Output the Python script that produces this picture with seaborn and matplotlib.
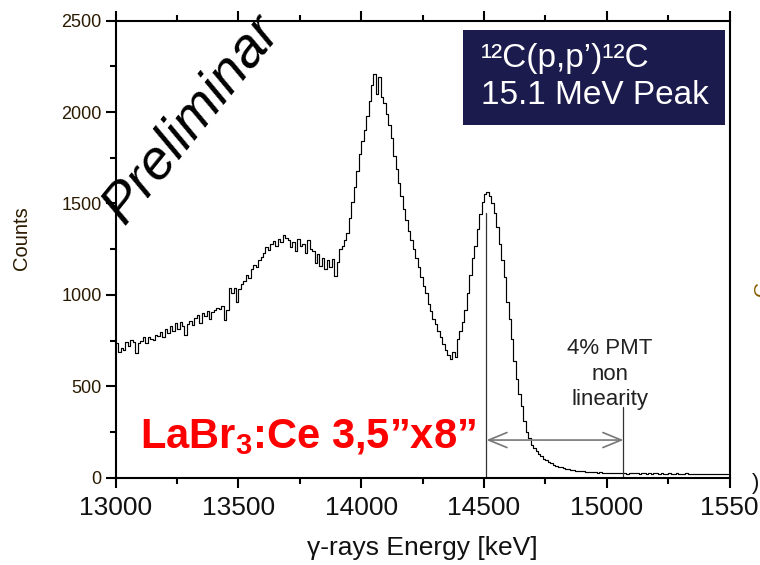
import numpy as np
import pandas as pd
import seaborn as sns
import matplotlib
matplotlib.use("Agg")
import matplotlib.pyplot as plt
from matplotlib.ticker import MultipleLocator
from matplotlib.patches import Rectangle

# Spectrum: 10 keV bins starting at 13000 keV
bin_start = 13000
bin_width = 10
counts = [
    # 13000-13100
    735, 690, 712, 700, 745, 718, 752, 740, 680, 735,
    # 13100-13200
    748, 770, 735, 768, 760, 752, 780, 775, 795, 770,
    # 13200-13300
    812, 790, 830, 805, 845, 815, 850, 828, 780, 840,
    # 13300-13400
    858, 835, 875, 890, 845, 900, 885, 910, 870, 905,
    # 13400-13500
    915, 930, 925, 940, 865, 920, 1035, 1010, 1040, 960,
    # 13500-13600
    1030, 1060, 1075, 1110, 1095, 1140, 1165, 1150, 1190, 1205,
    # 13600-13700
    1230, 1260, 1245, 1280, 1295, 1270, 1305, 1290, 1325, 1310,
    # 13700-13800
    1300, 1260, 1290, 1240, 1305, 1265, 1280, 1230, 1300, 1250,
    # 13800-13900
    1240, 1175, 1225, 1160, 1200, 1140, 1190, 1150, 1195, 1105,
    # 13900-14000
    1180, 1250, 1270, 1300, 1340, 1420, 1510, 1590, 1680, 1770,
    # 14000-14100
    1840, 1900, 1980, 2060, 2150, 2210, 2100, 2190, 2080, 2050,
    # 14100-14200
    1990, 1930, 1860, 1760, 1690, 1610, 1540, 1470, 1410, 1350,
    # 14200-14300
    1300, 1250, 1200, 1150, 1100, 1050, 1010, 950, 910, 870,
    # 14300-14400
    840, 800, 770, 730, 700, 670, 650, 690, 660, 760,
    # 14400-14500
    800, 850, 920, 1010, 1110, 1200, 1270, 1360, 1440, 1510,
    # 14500-14600
    1550, 1565, 1540, 1500, 1450, 1370, 1280, 1190, 1100, 960,
    # 14600-14700
    870, 760, 640, 540, 460, 390, 310, 250, 215, 180,
    # 14700-14800
    160, 145, 130, 118, 105, 95, 88, 80, 72, 66,
    # 14800-14900
    60, 56, 52, 48, 45, 42, 40, 38, 36, 35,
    # 14900-15000
    34, 33, 32, 30, 31, 29, 28, 30, 27, 28,
    # 15000-15100
    27, 25, 28, 26, 24, 27, 25, 26, 23, 26,
    # 15100-15200
    25, 24, 26, 23, 25, 24, 22, 25, 23, 24,
    # 15200-15300
    24, 22, 25, 23, 22, 24, 21, 23, 24, 22,
    # 15300-15400
    23, 21, 24, 22, 20, 23, 22, 21, 23, 20,
    # 15400-15500
    22, 21, 20, 23, 21, 19, 22, 20, 21, 20,
]

x_ticks = [13000, 13500, 14000, 14500, 15000, 15500]
x_tick_labels = ["13000", "13500", "14000", "14500", "15000", "1550"]
y_ticks = [0, 500, 1000, 1500, 2000, 2500]

# Markers for the 4% PMT non-linearity span
peak_energy = 14510
shifted_energy = 15068
peak_marker_top = 1450
shift_marker_top = 388
arrow_level = 206

energy = bin_start + bin_width * (np.arange(len(counts)) + 0.5)
df = pd.DataFrame({"energy": energy, "counts": counts})

sns.set_theme(style="ticks")
plt.rcParams["font.family"] = ["Liberation Sans", "DejaVu Sans"]
plt.rcParams["mathtext.fontset"] = "custom"
plt.rcParams["mathtext.rm"] = "Liberation Sans"
plt.rcParams["mathtext.bf"] = "Liberation Sans:bold"
plt.rcParams["mathtext.it"] = "Liberation Sans:italic"

fig = plt.figure(figsize=(7.6, 5.65), dpi=100)
ax = fig.add_axes([0.1522, 0.1545, 0.8077, 0.8089])

sns.lineplot(data=df, x="energy", y="counts", ax=ax, color="black",
             linewidth=0.85, drawstyle="steps-mid", estimator=None)

ax.set_xlim(13000, 15500)
ax.set_ylim(0, 2500)
ax.set_xticks(x_ticks)
ax.set_xticklabels(x_tick_labels, fontsize=19, color="#111111")
ax.set_yticks(y_ticks)
ax.set_yticklabels([str(v) for v in y_ticks], fontsize=13, color="#2a1a00")
ax.xaxis.set_minor_locator(MultipleLocator(250))
ax.yaxis.set_minor_locator(MultipleLocator(250))
ax.tick_params(which="both", direction="out", top=True, right=False,
               labeltop=False, width=1.5, color="black")
ax.tick_params(which="major", length=7)
ax.tick_params(which="minor", length=4)
ax.tick_params(axis="x", pad=6)
ax.tick_params(axis="y", pad=3)
for side in ["left", "bottom", "top", "right"]:
    ax.spines[side].set_visible(True)
    ax.spines[side].set_linewidth(1.5)
    ax.spines[side].set_color("black")

ax.set_xlabel("γ-rays Energy [keV]", fontsize=19, color="#111111", labelpad=12)
ax.set_ylabel("Counts", fontsize=14.5, color="#2a1a00", va="center")
ax.yaxis.set_label_coords(-0.1527, 0.525)

# Reaction label box
ax.add_patch(Rectangle((0.566, 0.772), 0.427, 0.208, transform=ax.transAxes,
                       facecolor="#1c1b4e", edgecolor="none", zorder=3))
ax.text(0.595, 0.917, "¹²C(p,p’)¹²C", transform=ax.transAxes, color="white",
        fontsize=24, ha="left", va="center", zorder=4)
ax.text(0.595, 0.836, "15.1 MeV Peak", transform=ax.transAxes, color="white",
        fontsize=24, ha="left", va="center", zorder=4)

# Watermark
fig.text(0.252, 0.788, "Preliminar", fontsize=40, style="italic",
         rotation=51, ha="center", va="center", color="black")

# Detector label
fig.text(0.184, 0.207, r"LaBr$_\mathbf{3}$:Ce 3,5”x8”", fontsize=30,
         fontweight="bold", color="#ff0000", ha="left", va="baseline")

# PMT non-linearity markers
ax.plot([peak_energy, peak_energy], [0, peak_marker_top], color="#333333", lw=0.9)
ax.plot([shifted_energy, shifted_energy], [0, shift_marker_top], color="#333333", lw=0.9)
ax.annotate("", xy=(peak_energy, arrow_level), xytext=(shifted_energy, arrow_level),
            arrowprops=dict(arrowstyle="<->,head_length=1.1,head_width=0.45",
                            color="#777777", lw=1.2, shrinkA=0, shrinkB=0))
fig.text(610 / 760, 1 - 374 / 565, "4% PMT\nnon\nlinearity", fontsize=16,
         color="#222222", ha="center", va="center", linespacing=1.3)

# Edge of the neighbouring panel
fig.text(752 / 760, 1 - 483 / 565, ")", fontsize=16, color="#111111",
         ha="left", va="center")
fig.text(753 / 760, 1 - 288 / 565, "C", fontsize=15, color="#8a5a00",
         rotation=90, ha="left", va="center")

fig.savefig("out.png", dpi=100)
